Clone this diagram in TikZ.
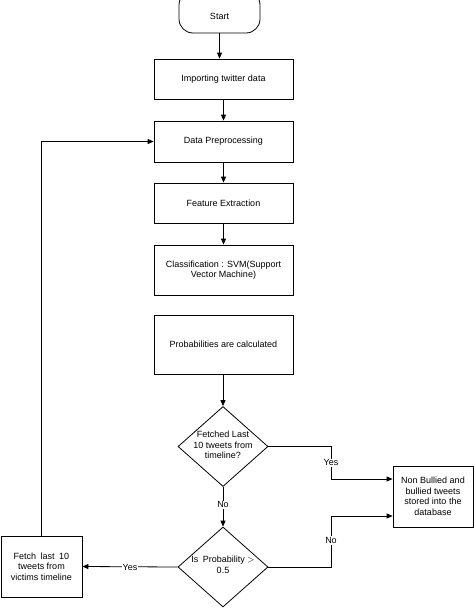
\documentclass[tikz,border=0pt]{standalone}
\usepackage{fontspec}
\setmainfont{Liberation Sans}
\usetikzlibrary{shapes.geometric,arrows.meta}
\begin{document}
\begin{tikzpicture}[x=1pt,y=-1pt,
 every node/.style={font=\fontsize{9}{10.5}\selectfont},
 proc/.style={draw, line width=0.8pt, minimum width=139pt, align=center, inner sep=0pt},
 sideproc/.style={draw, line width=0.8pt, minimum width=80pt, minimum height=61pt, align=center, inner sep=0pt},
 dec/.style={draw, diamond, aspect=1.125, minimum width=90pt, minimum height=80pt, inner sep=0pt, line width=0.8pt},
 dectext/.style={align=center, inner sep=0pt},
 arr/.style={-{Triangle[length=6pt,width=5pt]}, line width=0.8pt},
 lab/.style={fill=white, inner sep=1pt}]
\useasboundingbox (0,0) rectangle (474,608);
\node[draw, line width=0.8pt, rounded corners=14pt, minimum width=81pt, minimum height=42pt, inner sep=0pt] (start) at (219.5,12) {};
\node[inner sep=0pt] (starttext) at (219.5,16) {Start};
\node[proc, minimum height=40pt] (import) at (223.5,79) {Importing twitter data};
\node[proc, minimum height=41pt] (prep) at (223.5,141.5) {Data Preprocessing};
\node[proc, minimum height=40pt] (feat) at (223.5,203) {Feature Extraction};
\node[proc, minimum height=50pt] (class) at (223.5,270) {Classification : SVM(Support\\Vector Machine)};
\node[proc, minimum height=59pt] (prob) at (223.5,344.5) {Probabilities are calculated};
\node[dec] (d1) at (223,446.5) {};
\node[dectext] (d1text) at (223,445) {Fetched Last\\10 tweets from\\timeline?};
\node[dec] (d2) at (223,567) {};
\node[dectext] (d2text) at (223,565) {Is\enspace Probability $>$\\0.5};
\node[sideproc] (store) at (433,496.5) {Non Bullied and\\bullied tweets\\stored into the\\database};
\node[sideproc, minimum width=81pt] (fetch) at (41.5,566.5) {Fetch\enspace last\enspace 10\\tweets from\\victims timeline};
\coordinate (ya) at (331,479);
\coordinate (na) at (331,516);
\draw[arr] (start.south) -- (start.south |- import.north);
\draw[arr] (import) -- (prep);
\draw[arr] (prep) -- (feat);
\draw[arr] (feat) -- (class);
\draw[arr] (prob.south -| d1.north) -- (d1.north);
\draw[arr] (d1.south) -- node[lab, pos=0.45] {No} (d2.north);
\draw[arr] (d1.east) -| node[lab, pos=0.75] {Yes} (ya) -- (ya -| store.west);
\draw[arr] (d2.east) -| node[lab, pos=0.76] {No} (na) -- (na -| store.west);
\draw[arr] (d2.west) -- node[lab, pos=0.5, yshift=-1pt] {Yes} (fetch.east);
\draw[arr] (fetch.north) -- (fetch.north |- prep.west) -- (prep.west);
\end{tikzpicture}
\end{document}
